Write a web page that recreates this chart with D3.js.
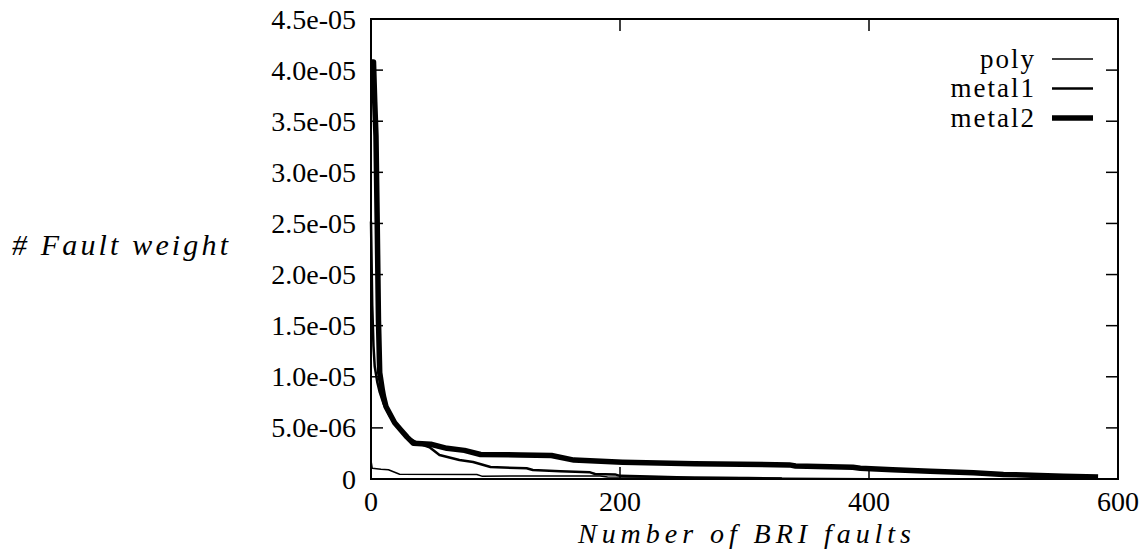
<!DOCTYPE html>
<html>
<head>
<meta charset="utf-8">
<script src="https://cdn.jsdelivr.net/npm/d3@7"></script>
<style>
  body { margin: 0; background: #fff; }
  text { font-family: "Liberation Serif", "Times New Roman", serif; fill: #000; }
</style>
</head>
<body>
<div id="chart"></div>
<script>
// weights in units of 1e-6, x = fault index (sorted)
const polyData = [
  [0, 1.8], [1, 1.05], [8, 0.95], [14, 0.9], [23, 0.47], [85, 0.44], [89, 0.28],
  [184, 0.3], [190, 0.2], [303, 0.15], [330, 0.08], [400, 0.03]
];
const metal1Data = [
  [0, 25.2], [1, 17], [2, 13], [3, 11], [5, 9.5], [7, 8.5], [10, 7.4], [15, 6.2],
  [20, 5.3], [29, 4.1], [38, 3.5], [47, 3.1], [55, 2.35], [71, 1.86], [82, 1.66],
  [96, 1.17], [125, 1.05], [130, 0.88], [152, 0.75], [176, 0.65], [180, 0.49],
  [196, 0.45], [200, 0.31], [224, 0.25], [260, 0.12], [330, 0.04]
];
const metal2Data = [
  [0, 40.8], [2, 40.8], [3, 36.9], [4, 33.6], [5, 25.0], [6, 15.5],
  [7, 10.4], [8, 9.6], [9, 8.8], [10, 8.1], [12, 7.1], [15, 6.4], [19, 5.5],
  [24, 4.8], [29, 4.1], [34, 3.5], [48, 3.4], [61, 3.0], [75, 2.8], [88, 2.4],
  [120, 2.35], [145, 2.3], [163, 1.85], [202, 1.65], [260, 1.48], [336, 1.38],
  [341, 1.27], [387, 1.15], [393, 1.05], [419, 0.91], [449, 0.77], [484, 0.6],
  [508, 0.45], [556, 0.28], [584, 0.2]
];

const seriesNames = ['poly', 'metal1', 'metal2'];
const seriesList = [polyData, metal1Data, metal2Data];
const lineWidths = [1.5, 2.5, 5.5];

const xTicks = [0, 200, 400, 600];
const yTicks = [0, 5, 10, 15, 20, 25, 30, 35, 40, 45];
const yTickLabels = ['0', '5.0e-06', '1.0e-05', '1.5e-05', '2.0e-05', '2.5e-05',
                     '3.0e-05', '3.5e-05', '4.0e-05', '4.5e-05'];

const W = 1146, H = 556;
const margin = {top: 19, right: 28, bottom: 77, left: 371};
const w = W - margin.left - margin.right;
const h = H - margin.top - margin.bottom;

const svg = d3.select('#chart').append('svg')
  .attr('width', W).attr('height', H);
const g = svg.append('g').attr('transform', `translate(${margin.left},${margin.top})`);

const x = d3.scaleLinear().domain([0, 600]).range([0, w]);
const y = d3.scaleLinear().domain([0, 45]).range([h, 0]);
const tick = 12;

// ticks, inward on all four sides
g.selectAll('.xt').data(xTicks).enter().append('line')
  .attr('x1', d => x(d)).attr('x2', d => x(d)).attr('y1', h).attr('y2', h - tick)
  .attr('stroke', '#000').attr('stroke-width', 1.5);
g.selectAll('.xt2').data(xTicks).enter().append('line')
  .attr('x1', d => x(d)).attr('x2', d => x(d)).attr('y1', 0).attr('y2', tick)
  .attr('stroke', '#000').attr('stroke-width', 1.5);
g.selectAll('.yt').data(yTicks).enter().append('line')
  .attr('x1', 0).attr('x2', tick).attr('y1', d => y(d)).attr('y2', d => y(d))
  .attr('stroke', '#000').attr('stroke-width', 1.5);
g.selectAll('.yt2').data(yTicks).enter().append('line')
  .attr('x1', w - tick).attr('x2', w).attr('y1', d => y(d)).attr('y2', d => y(d))
  .attr('stroke', '#000').attr('stroke-width', 1.5);

g.selectAll('.xl').data(xTicks).enter().append('text')
  .attr('x', d => x(d)).attr('y', h + 32).attr('text-anchor', 'middle')
  .style('font-size', '28px').text(d => d);
g.selectAll('.yl').data(yTicks).enter().append('text')
  .attr('x', -15).attr('y', d => y(d)).attr('dy', '0.34em').attr('text-anchor', 'end')
  .style('font-size', '28px').text((d, i) => yTickLabels[i]);

// curves
const line = d3.line().x(d => x(d[0])).y(d => y(d[1]));
seriesList.forEach((s, i) => {
  g.append('path').datum(s).attr('d', line)
    .attr('fill', 'none').attr('stroke', '#000')
    .attr('stroke-width', lineWidths[i]).attr('stroke-linejoin', 'round');
});

// frame
g.append('rect').attr('width', w).attr('height', h)
  .attr('fill', 'none').attr('stroke', '#000').attr('stroke-width', 2);

// legend
const leg = g.selectAll('.leg').data(seriesNames).enter().append('g')
  .attr('transform', (d, i) => `translate(0,${40 + i * 29.5})`);
leg.append('text').attr('x', 665).attr('y', 0).attr('dy', '0.32em')
  .attr('text-anchor', 'end').style('font-size', '27px').style('letter-spacing', '2px')
  .text(d => d);
leg.append('line').attr('x1', 681).attr('x2', 722).attr('y1', 0).attr('y2', 0)
  .attr('stroke', '#000').attr('stroke-width', (d, i) => lineWidths[i]);

// axis titles
svg.append('text').attr('x', 12).attr('y', 255)
  .style('font-size', '30px').style('font-style', 'italic')
  .attr('textLength', 216).attr('lengthAdjust', 'spacing')
  .text('# Fault weight');
svg.append('text').attr('x', 578).attr('y', 543)
  .style('font-size', '28px').style('font-style', 'italic')
  .attr('textLength', 333).attr('lengthAdjust', 'spacing')
  .text('Number of BRI faults');
</script>
</body>
</html>
